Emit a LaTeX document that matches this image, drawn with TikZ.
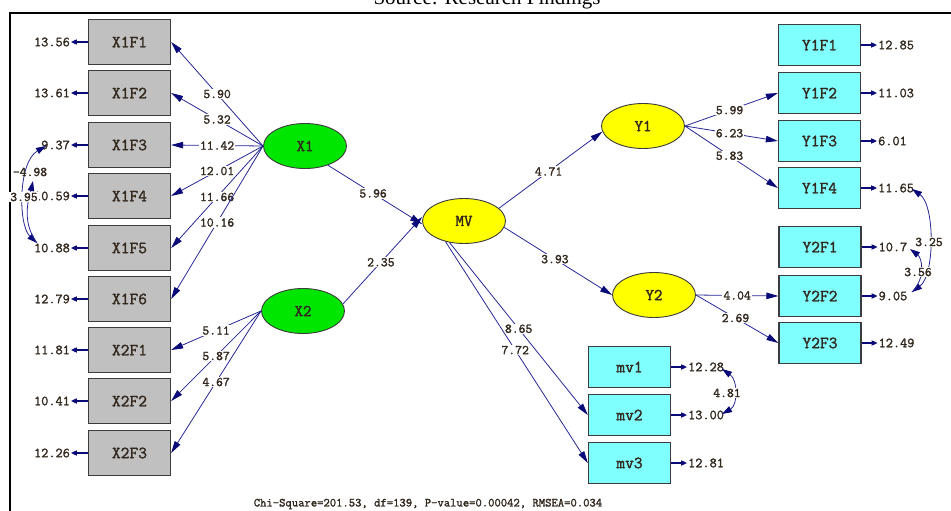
\documentclass[tikz,border=0pt]{standalone}
\usepackage{fontspec}
\setmainfont{Liberation Serif}
\newfontfamily\lisfont[FakeBold=1.6]{Latin Modern Mono}
\usetikzlibrary{arrows.meta,shapes.geometric}

\definecolor{pathblue}{RGB}{40,40,150}
\definecolor{tipblue}{RGB}{10,10,120}
\definecolor{boxgray}{RGB}{192,192,192}
\definecolor{boxcyan}{RGB}{128,255,255}
\definecolor{latgreen}{RGB}{0,230,0}
\definecolor{latyellow}{RGB}{255,255,0}
\definecolor{labelink}{RGB}{50,40,30}
\definecolor{edgegray}{RGB}{60,60,60}

\tikzset{corrtip/.tip={Triangle[length=10pt,width=6.5pt,color=tipblue]}}

\begin{document}
\begin{tikzpicture}[x=1pt,y=-1pt,
  obs/.style={rectangle, draw=edgegray, line width=1.3pt, inner sep=0pt,
    minimum width=82pt, text=labelink,
    font=\lisfont\fontsize{17}{17}\selectfont},
  obsgray/.style={obs, fill=boxgray, minimum height=45pt},
  obscyan/.style={obs, fill=boxcyan, minimum height=41pt},
  latent/.style={ellipse, draw=edgegray, line width=0.9pt, inner sep=0pt,
    minimum width=83pt, minimum height=45pt, text=labelink,
    font=\lisfont\fontsize{16.5}{16.5}\selectfont},
  pathline/.style={draw=pathblue, line width=0.8pt,
    -{Triangle[length=12pt,width=6.5pt,color=tipblue]}},
  coef/.style={fill=white, inner sep=1pt, text=labelink,
    font=\lisfont\fontsize{13.3}{13.3}\selectfont},
  errval/.style={inner sep=0.8pt, text=labelink,
    font=\lisfont\fontsize{13.9}{13.9}\selectfont},
  errline/.style={draw=tipblue, line width=1.5pt,
    -{Triangle[length=6pt,width=5pt]}},
  corr/.style={draw=pathblue, line width=0.8pt},
  corrlabel/.style={coef}
]
\useasboundingbox (0,0) rectangle (951,511);
\clip (0,0) rectangle (951,511);
\fill[white] (0,0) rectangle (951,511);

% caption above the frame and the frame itself
\node[anchor=base, inner sep=0pt, font=\fontsize{21}{21}\selectfont] (source) at (487,5) {Source: Research Findings};
\draw[line width=2pt, black] (951,13) -- (10,13) -- (10,520);

% exogenous indicators
\node[obsgray] (X1F1) at (129.5,42)  {X1F1};
\node[obsgray] (X1F2) at (129.5,93)  {X1F2};
\node[obsgray] (X1F3) at (129.5,145) {X1F3};
\node[obsgray] (X1F4) at (129.5,196) {X1F4};
\node[obsgray] (X1F5) at (129.5,248) {X1F5};
\node[obsgray] (X1F6) at (129.5,299) {X1F6};
\node[obsgray] (X2F1) at (129.5,350) {X2F1};
\node[obsgray] (X2F2) at (129.5,401) {X2F2};
\node[obsgray] (X2F3) at (129.5,453) {X2F3};

% endogenous indicators
\node[obscyan] (Y1F1) at (819.5,45)  {Y1F1};
\node[obscyan] (Y1F2) at (819.5,93)  {Y1F2};
\node[obscyan] (Y1F3) at (819.5,141) {Y1F3};
\node[obscyan] (Y1F4) at (819.5,188) {Y1F4};
\node[obscyan] (Y2F1) at (820,247)   {Y2F1};
\node[obscyan] (Y2F2) at (820,296)   {Y2F2};
\node[obscyan] (Y2F3) at (820,343)   {Y2F3};
\node[obscyan] (mv1) at (629.5,367) {mv1};
\node[obscyan] (mv2) at (629.5,415) {mv2};
\node[obscyan] (mv3) at (629.5,463) {mv3};

% latent variables
\node[latent, fill=latgreen]  (X1) at (305,146) {X1};
\node[latent, fill=latgreen]  (X2) at (303,311) {X2};
\node[latent, fill=latyellow] (MV) at (464,221) {MV};
\node[latent, fill=latyellow] (Y1) at (643,126) {Y1};
\node[latent, fill=latyellow] (Y2) at (654,295) {Y2};

% measurement paths
\draw[pathline] (X1.west) -- node[coef]{5.90}  (X1F1.east);
\draw[pathline] (X1.west) -- node[coef]{5.32}  (X1F2.east);
\draw[pathline] (X1.west) -- node[coef]{11.42} (X1F3.east);
\draw[pathline] (X1.west) -- node[coef]{12.01} (X1F4.east);
\draw[pathline] (X1.west) -- node[coef]{11.66} (X1F5.east);
\draw[pathline] (X1.west) -- node[coef]{10.16} (X1F6.east);
\draw[pathline] (X2.west) -- node[coef]{5.11}  (X2F1.east);
\draw[pathline] (X2.west) -- node[coef]{5.87}  (X2F2.east);
\draw[pathline] (X2.west) -- node[coef]{4.67}  (X2F3.east);
\draw[pathline] (Y1.east) -- node[coef,pos=.48]{5.99} (Y1F2.west);
\draw[pathline] (Y1.east) -- node[coef,pos=.48]{6.23} (Y1F3.west);
\draw[pathline] (Y1.east) -- node[coef,pos=.48]{5.83} (Y1F4.west);
\draw[pathline] (Y2.east) -- node[coef,pos=.5]{4.04}  (Y2F2.west);
\draw[pathline] (Y2.east) -- node[coef,pos=.48]{2.69} (Y2F3.west);
\draw[pathline] (MV.236) -- node[coef,pos=.5]{8.65}  (mv2.west);
\draw[pathline] (MV.228) -- node[coef,pos=.49]{7.72} (mv3.west);

% structural paths
\draw[pathline] (X1.-40) -- node[coef,pos=.48]{5.96} ([yshift=-3pt]MV.west);
\draw[pathline] (X2.10)  -- node[coef,pos=.48]{2.35} ([yshift=4pt]MV.west);
\draw[pathline] (MV.20)  -- node[coef,pos=.48]{4.71} (Y1.188);
\draw[pathline] (MV.-9)  -- node[coef,pos=.47]{3.93} (Y2.west);

% error variances
\foreach \bx/\val in {X1F1/13.56, X1F2/13.61, X1F3/9.37, X1F4/10.59, X1F5/10.88,
                      X1F6/12.79, X2F1/11.81, X2F2/10.41, X2F3/12.26} {
  \node[errval, anchor=east] (e\bx) at ([xshift=-17pt]\bx.west) {\val};
  \draw[errline] (\bx.west) -- (e\bx.east);
}
\foreach \bx/\val in {Y1F1/12.85, Y1F2/11.03, Y1F3/6.01, Y1F4/11.65, Y2F1/10.7,
                      Y2F2/9.05, Y2F3/12.49, mv1/12.28, mv2/13.00, mv3/12.81} {
  \node[errval, anchor=west] (e\bx) at ([xshift=16pt]\bx.east) {\val};
  \draw[errline] (\bx.east) -- (e\bx.west);
}

% correlated errors, left side
\coordinate (cTop) at (46,146);
\coordinate (cMid) at (33,181);
\coordinate (cBot) at (37,243);
\draw[corr, {corrtip}-{corrtip}] (cTop) .. controls (18,162) and (18,225) .. (cBot);
\draw[corr, {corrtip}-] (cMid) .. controls (30,195) and (20,220) .. (cBot);
\node[corrlabel, fill=none] (l498) at (30,172) {-4.98};
\node[corrlabel] (l395) at (24,197) {3.95};

% correlated errors, right side
\coordinate (cD1) at (912,189);
\coordinate (cC1) at (910,249);
\coordinate (cD2) at (912,292);
\draw[corr, {corrtip}-{corrtip}] (cD1) .. controls (935,205) and (935,275) .. (cD2);
\draw[corr, {corrtip}-] (cC1) .. controls (922,258) and (926,278) .. (cD2);
\node[corrlabel] (l325) at (929,242) {3.25};
\node[corrlabel] (l356) at (918,272) {3.56};

\coordinate (cE1) at (722,369);
\coordinate (cE2) at (722,414);
\draw[corr, {corrtip}-{corrtip}] (cE1) .. controls (738,380) and (738,405) .. (cE2);
\node[corrlabel] (l481) at (727,393) {4.81};

% fit statistics
\node[inner sep=0pt, text=labelink, font=\lisfont\fontsize{12.3}{12.3}\selectfont]
  (fit) at (428,504) {Chi-Square=201.53, df=139, P-value=0.00042, RMSEA=0.034};
\end{tikzpicture}
\end{document}
